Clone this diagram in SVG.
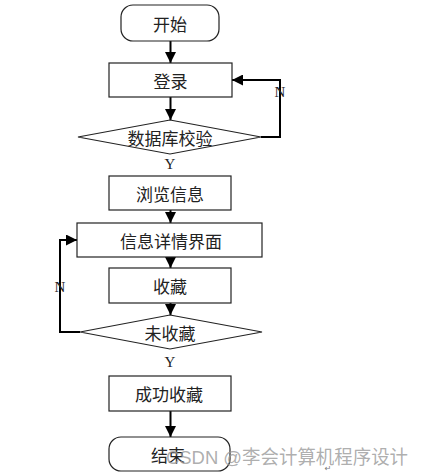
<svg xmlns="http://www.w3.org/2000/svg" width="425" height="475" viewBox="0 0 425 475">
<defs>
<marker id="ah" viewBox="0 0 10 10" refX="10" refY="5" markerWidth="11" markerHeight="11" markerUnits="userSpaceOnUse" orient="auto">
<path d="M0,0 L10,5 L0,10 Z" fill="#000"/>
</marker>
<style>
.box{fill:#fff;stroke:#222;stroke-width:1.2}
.t{font-family:"Noto Sans CJK SC","Liberation Sans",sans-serif;font-size:17px;fill:#222;text-anchor:middle;dominant-baseline:central}
.lbl{font-family:"Liberation Serif",serif;font-size:15px;fill:#222;text-anchor:middle;dominant-baseline:central}
.c{fill:none;stroke:#000;stroke-width:2}
</style>
</defs>
<rect width="425" height="475" fill="#fff"/>
<g id="connectors">
<line class="c" x1="170.5" y1="41" x2="170.5" y2="63" marker-end="url(#ah)"/>
<line class="c" x1="170.5" y1="97" x2="170.5" y2="120" marker-end="url(#ah)"/>
<polyline class="c" points="261,137 280,137 280,80 232,80" marker-end="url(#ah)"/>
<text class="lbl" x="280" y="92">N</text>
<text class="lbl" x="170" y="164">Y</text>
<line class="c" x1="170.5" y1="210" x2="170.5" y2="223" marker-end="url(#ah)"/>
<line class="c" x1="170.5" y1="257" x2="170.5" y2="268" marker-end="url(#ah)"/>
<line class="c" x1="170.5" y1="303" x2="170.5" y2="315" marker-end="url(#ah)"/>
<polyline class="c" points="80,332 60,332 60,240 77,240" marker-end="url(#ah)"/>
<text class="lbl" x="60" y="287">N</text>
<text class="lbl" x="170" y="362">Y</text>
<line class="c" x1="170.5" y1="411" x2="170.5" y2="437" marker-end="url(#ah)"/>
</g>
<g id="start">
<rect class="box" x="121" y="5" width="98" height="36" rx="12"/>
<text class="t" x="170" y="23">开始</text>
</g>
<g id="login">
<rect class="box" x="109" y="63" width="123" height="34"/>
<text class="t" x="170.5" y="80">登录</text>
</g>
<g id="dbcheck">
<polygon class="box" points="170,120 261,137 170,154 78,137"/>
<text class="t" x="170" y="137">数据库校验</text>
</g>
<g id="browse">
<rect class="box" x="109" y="176" width="122" height="34"/>
<text class="t" x="170" y="193">浏览信息</text>
</g>
<g id="details">
<rect class="box" x="77" y="223" width="185" height="34"/>
<text class="t" x="171" y="240">信息详情界面</text>
</g>
<g id="fav">
<rect class="box" x="109" y="268" width="122" height="35"/>
<text class="t" x="170" y="285">收藏</text>
</g>
<g id="notfav">
<polygon class="box" points="170,315 262,332 170,349 80,332"/>
<text class="t" x="170" y="332">未收藏</text>
</g>
<g id="success">
<rect class="box" x="109" y="376" width="122" height="35"/>
<text class="t" x="169" y="393">成功收藏</text>
</g>
<g id="end">
<rect class="box" x="109" y="437" width="121" height="34" rx="12"/>
<text class="t" x="168" y="454">结束</text>
</g>
<text x="166" y="457" font-family="Liberation Sans,'Noto Sans CJK SC',sans-serif" font-size="19" fill="#999" fill-opacity="0.8" dominant-baseline="central" textLength="242" lengthAdjust="spacingAndGlyphs">CSDN @李会计算机程序设计</text>
<text x="328" y="471" font-family="DejaVu Sans,sans-serif" font-size="8" fill="#777" text-anchor="middle">↵</text>
</svg>
